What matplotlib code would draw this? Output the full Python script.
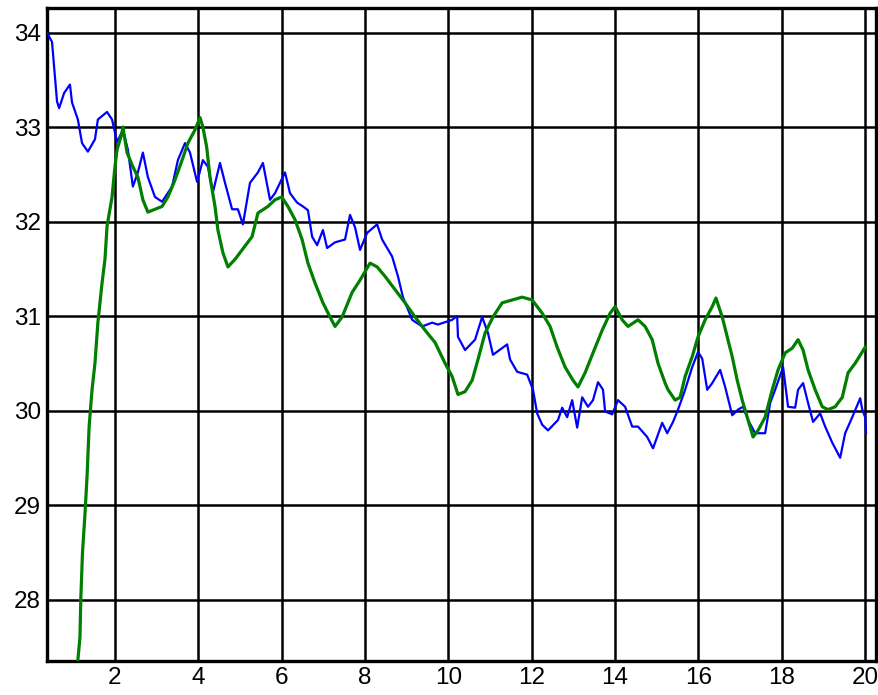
import numpy as np
import matplotlib.pyplot as plt

# blue trace: (time, value)
blue = [(0.37, 34.00), (0.49, 33.90), (0.56, 33.53), (0.61, 33.27), (0.66, 33.20),
        (0.78, 33.36), (0.92, 33.45), (0.97, 33.26), (1.11, 33.08), (1.21, 32.83),
        (1.35, 32.74), (1.52, 32.87), (1.59, 33.08), (1.81, 33.16), (1.93, 33.08),
        (2.05, 32.84), (2.19, 32.97), (2.31, 32.76), (2.43, 32.37), (2.55, 32.52),
        (2.67, 32.73), (2.79, 32.47), (2.96, 32.26), (3.13, 32.21), (3.37, 32.37),
        (3.51, 32.65), (3.68, 32.83), (3.80, 32.73), (3.97, 32.42), (4.11, 32.65),
        (4.23, 32.58), (4.35, 32.31), (4.52, 32.62), (4.64, 32.41), (4.81, 32.13),
        (4.95, 32.13), (5.07, 31.97), (5.24, 32.41), (5.43, 32.52), (5.55, 32.62),
        (5.65, 32.39), (5.72, 32.23), (5.84, 32.30), (6.08, 32.52), (6.20, 32.30),
        (6.37, 32.20), (6.51, 32.16), (6.63, 32.12), (6.73, 31.84), (6.85, 31.75),
        (6.99, 31.91), (7.09, 31.72), (7.28, 31.78), (7.52, 31.81), (7.64, 32.07),
        (7.76, 31.94), (7.88, 31.70), (8.05, 31.88), (8.29, 31.97), (8.41, 31.81),
        (8.65, 31.63), (8.79, 31.42), (8.91, 31.20), (9.13, 30.96), (9.37, 30.89),
        (9.61, 30.93), (9.75, 30.91), (10.09, 30.96), (10.21, 31.00), (10.23, 30.78),
        (10.40, 30.64), (10.64, 30.75), (10.81, 30.99), (10.95, 30.82), (11.07, 30.59),
        (11.41, 30.70), (11.48, 30.54), (11.65, 30.41), (11.89, 30.38), (12.03, 30.22),
        (12.13, 29.97), (12.25, 29.85), (12.39, 29.79), (12.63, 29.90), (12.73, 30.03),
        (12.85, 29.93), (12.97, 30.11), (13.09, 29.82), (13.21, 30.14), (13.35, 30.04),
        (13.47, 30.11), (13.59, 30.30), (13.71, 30.22), (13.76, 29.99), (13.93, 29.96),
        (14.07, 30.11), (14.24, 30.04), (14.41, 29.83), (14.55, 29.83), (14.77, 29.72),
        (14.91, 29.60), (15.13, 29.87), (15.25, 29.76), (15.39, 29.88), (15.51, 30.01),
        (15.68, 30.22), (15.85, 30.46), (15.99, 30.62), (16.09, 30.55), (16.21, 30.22),
        (16.33, 30.29), (16.52, 30.43), (16.64, 30.25), (16.81, 29.95), (16.95, 30.01),
        (17.07, 30.04), (17.19, 29.90), (17.36, 29.76), (17.60, 29.76), (17.72, 30.08),
        (17.84, 30.22), (18.03, 30.46), (18.15, 30.04), (18.32, 30.03), (18.39, 30.22),
        (18.51, 30.29), (18.63, 30.08), (18.75, 29.88), (18.92, 29.97), (19.04, 29.83),
        (19.21, 29.66), (19.40, 29.50), (19.52, 29.76), (19.69, 29.93), (19.88, 30.13),
        (19.93, 30.01), (20.00, 29.93), (20.02, 29.76)]

# green trace: (time, value)
green = [(1.11, 27.36), (1.16, 27.60), (1.18, 28.00), (1.22, 28.49), (1.28, 28.90),
         (1.33, 29.30), (1.38, 29.83), (1.45, 30.22), (1.52, 30.50), (1.59, 30.93),
         (1.69, 31.35), (1.76, 31.60), (1.81, 31.95), (1.93, 32.26), (2.00, 32.58),
         (2.05, 32.76), (2.17, 32.94), (2.19, 33.00), (2.29, 32.73), (2.43, 32.58),
         (2.55, 32.47), (2.67, 32.23), (2.79, 32.10), (2.96, 32.13), (3.13, 32.16),
         (3.27, 32.26), (3.44, 32.44), (3.61, 32.65), (3.75, 32.83), (3.92, 32.97),
         (4.04, 33.10), (4.11, 33.00), (4.20, 32.79), (4.28, 32.47), (4.40, 32.16),
         (4.47, 31.91), (4.59, 31.67), (4.71, 31.52), (4.88, 31.60), (5.05, 31.70),
         (5.29, 31.84), (5.43, 32.09), (5.67, 32.16), (5.84, 32.23), (6.00, 32.26),
         (6.15, 32.16), (6.32, 32.02), (6.49, 31.81), (6.63, 31.56), (6.80, 31.35),
         (6.99, 31.14), (7.16, 30.99), (7.28, 30.89), (7.45, 30.99), (7.69, 31.25),
         (7.88, 31.38), (8.12, 31.56), (8.29, 31.52), (8.48, 31.42), (8.72, 31.28),
         (8.96, 31.14), (9.20, 30.99), (9.44, 30.85), (9.68, 30.72), (9.92, 30.50),
         (10.09, 30.36), (10.23, 30.17), (10.40, 30.20), (10.57, 30.32), (10.71, 30.54),
         (10.88, 30.82), (11.07, 30.99), (11.29, 31.14), (11.53, 31.17), (11.77, 31.20),
         (12.01, 31.17), (12.25, 31.03), (12.44, 30.89), (12.61, 30.67), (12.80, 30.46),
         (12.99, 30.32), (13.11, 30.25), (13.28, 30.40), (13.47, 30.61), (13.69, 30.85),
         (13.88, 31.03), (14.00, 31.10), (14.17, 30.96), (14.31, 30.89), (14.55, 30.96),
         (14.72, 30.89), (14.89, 30.75), (15.03, 30.50), (15.20, 30.29), (15.27, 30.22),
         (15.44, 30.11), (15.56, 30.14), (15.68, 30.36), (15.85, 30.57), (15.99, 30.78),
         (16.16, 30.96), (16.33, 31.10), (16.42, 31.19), (16.57, 30.99), (16.69, 30.78),
         (16.81, 30.57), (16.93, 30.32), (17.05, 30.11), (17.17, 29.93), (17.31, 29.72),
         (17.43, 29.79), (17.60, 29.93), (17.77, 30.22), (17.91, 30.43), (18.08, 30.61),
         (18.25, 30.66), (18.39, 30.75), (18.51, 30.64), (18.63, 30.43), (18.80, 30.22),
         (18.97, 30.04), (19.11, 30.01), (19.28, 30.04), (19.45, 30.14), (19.59, 30.40),
         (19.76, 30.50), (20.00, 30.67)]

x_ticks = [2, 4, 6, 8, 10, 12, 14, 16, 18, 20]
y_ticks = [28, 29, 30, 31, 32, 33, 34]

blue_t, blue_v = np.array(blue).T
green_t, green_v = np.array(green).T

plt.rcParams['font.family'] = ['Liberation Sans', 'DejaVu Sans']

fig = plt.figure(figsize=(8.79, 6.95), dpi=100)
ax = fig.add_axes([0.0535, 0.049, 0.9431, 0.9395])

ax.plot(blue_t, blue_v, color='#0000ff', lw=1.6, zorder=3)
ax.plot(green_t, green_v, color='#007f00', lw=2.3, zorder=4)

ax.set_xlim(0.37, 20.26)
ax.set_ylim(27.35, 34.26)
ax.set_xticks(x_ticks)
ax.set_yticks(y_ticks)
ax.grid(True, color='black', lw=1.8, zorder=1)
ax.set_axisbelow(True)
ax.tick_params(length=0, labelsize=17.5, pad=4.5)
for s in ax.spines.values():
    s.set_linewidth(2.4)

fig.savefig('out.png', dpi=100)
